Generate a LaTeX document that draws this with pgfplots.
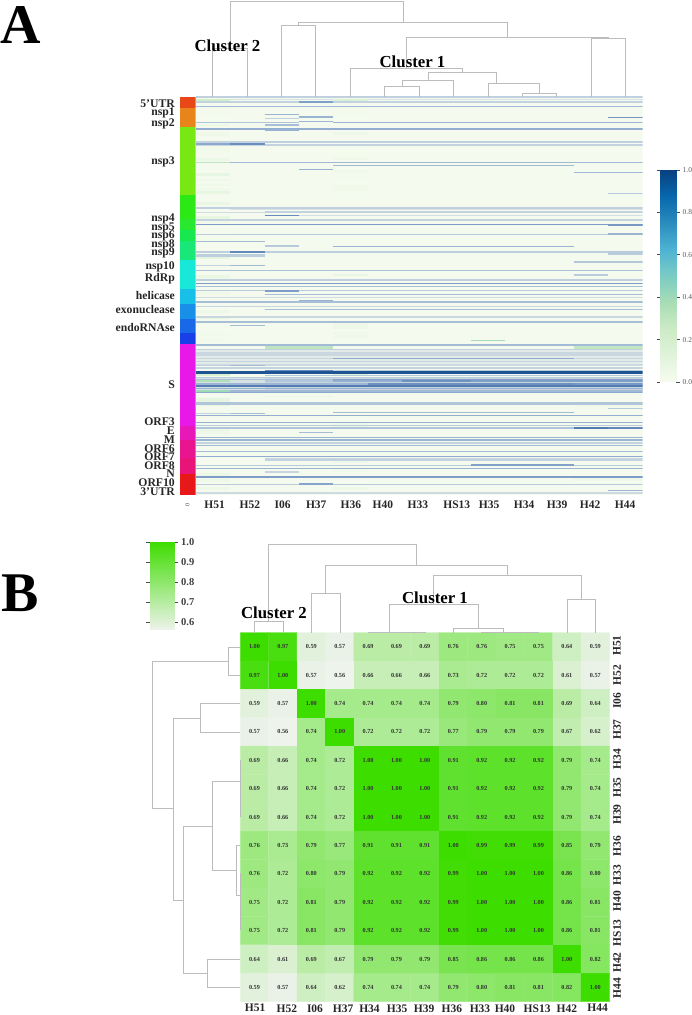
\documentclass[border=0pt]{standalone}
\usepackage{fontspec}
\setmainfont{Liberation Serif}
\usepackage{pgfplots}
\usepackage{pgfplotstable}
\pgfplotsset{compat=1.18}
\definecolor{dgray}{RGB}{188,188,188}
\pgfplotsset{
  colormap={gnbu}{rgb255(0)=(247,252,240) rgb255(1)=(224,243,219) rgb255(2)=(204,235,197) rgb255(3)=(168,221,181) rgb255(4)=(123,204,196) rgb255(5)=(78,179,211) rgb255(6)=(43,140,190) rgb255(7)=(8,104,172) rgb255(8)=(8,64,129)},
  colormap={stripe}{rgb255(0)=(245,251,239) rgb255(1)=(208,220,226) rgb255(2)=(176,197,218) rgb255(3)=(140,168,206) rgb255(4)=(90,130,182) rgb255(5)=(15,72,140)},
  colormap={limeg}{rgb255(0)=(238,243,236) rgb255(1)=(62,221,0)},
  dend/.style={no marks,draw=dgray,line width=1pt,line join=miter},
}
\newcommand{\fnt}[1]{\fontsize{#1}{#1}\selectfont}
% one row of heat map A: [thickness]{row position}{first col}{last col edge}{value x 1000}
\newcommand{\st}[5][1.2]{\addplot[no marks,line width=1.2*#1pt,color of colormap={#5 of stripe},draw=.] coordinates {(#3,#2)(#4,#2)};}
\newcommand{\gn}[5][1.2]{\addplot[no marks,line width=#1pt,color of colormap={#5 of gnbu},draw=.] coordinates {(#3,#2)(#4,#2)};}
\newcommand{\seg}[3]{\addplot[fill={#3},draw=none] coordinates {(180,#1)(195.5,#1)(195.5,#2)(180,#2)} --cycle;}
\pgfplotstableread[row sep=\\]{
x y v\\
0 0 1.00\\ 1 0 0.97\\ 2 0 0.59\\ 3 0 0.57\\ 4 0 0.69\\ 5 0 0.69\\ 6 0 0.69\\ 7 0 0.76\\ 8 0 0.76\\ 9 0 0.75\\ 10 0 0.75\\ 11 0 0.64\\ 12 0 0.59\\
0 1 0.97\\ 1 1 1.00\\ 2 1 0.57\\ 3 1 0.56\\ 4 1 0.66\\ 5 1 0.66\\ 6 1 0.66\\ 7 1 0.73\\ 8 1 0.72\\ 9 1 0.72\\ 10 1 0.72\\ 11 1 0.61\\ 12 1 0.57\\
0 2 0.59\\ 1 2 0.57\\ 2 2 1.00\\ 3 2 0.74\\ 4 2 0.74\\ 5 2 0.74\\ 6 2 0.74\\ 7 2 0.79\\ 8 2 0.80\\ 9 2 0.81\\ 10 2 0.81\\ 11 2 0.69\\ 12 2 0.64\\
0 3 0.57\\ 1 3 0.56\\ 2 3 0.74\\ 3 3 1.00\\ 4 3 0.72\\ 5 3 0.72\\ 6 3 0.72\\ 7 3 0.77\\ 8 3 0.79\\ 9 3 0.79\\ 10 3 0.79\\ 11 3 0.67\\ 12 3 0.62\\
0 4 0.69\\ 1 4 0.66\\ 2 4 0.74\\ 3 4 0.72\\ 4 4 1.00\\ 5 4 1.00\\ 6 4 1.00\\ 7 4 0.91\\ 8 4 0.92\\ 9 4 0.92\\ 10 4 0.92\\ 11 4 0.79\\ 12 4 0.74\\
0 5 0.69\\ 1 5 0.66\\ 2 5 0.74\\ 3 5 0.72\\ 4 5 1.00\\ 5 5 1.00\\ 6 5 1.00\\ 7 5 0.91\\ 8 5 0.92\\ 9 5 0.92\\ 10 5 0.92\\ 11 5 0.79\\ 12 5 0.74\\
0 6 0.69\\ 1 6 0.66\\ 2 6 0.74\\ 3 6 0.72\\ 4 6 1.00\\ 5 6 1.00\\ 6 6 1.00\\ 7 6 0.91\\ 8 6 0.92\\ 9 6 0.92\\ 10 6 0.92\\ 11 6 0.79\\ 12 6 0.74\\
0 7 0.76\\ 1 7 0.73\\ 2 7 0.79\\ 3 7 0.77\\ 4 7 0.91\\ 5 7 0.91\\ 6 7 0.91\\ 7 7 1.00\\ 8 7 0.99\\ 9 7 0.99\\ 10 7 0.99\\ 11 7 0.85\\ 12 7 0.79\\
0 8 0.76\\ 1 8 0.72\\ 2 8 0.80\\ 3 8 0.79\\ 4 8 0.92\\ 5 8 0.92\\ 6 8 0.92\\ 7 8 0.99\\ 8 8 1.00\\ 9 8 1.00\\ 10 8 1.00\\ 11 8 0.86\\ 12 8 0.80\\
0 9 0.75\\ 1 9 0.72\\ 2 9 0.81\\ 3 9 0.79\\ 4 9 0.92\\ 5 9 0.92\\ 6 9 0.92\\ 7 9 0.99\\ 8 9 1.00\\ 9 9 1.00\\ 10 9 1.00\\ 11 9 0.86\\ 12 9 0.81\\
0 10 0.75\\ 1 10 0.72\\ 2 10 0.81\\ 3 10 0.79\\ 4 10 0.92\\ 5 10 0.92\\ 6 10 0.92\\ 7 10 0.99\\ 8 10 1.00\\ 9 10 1.00\\ 10 10 1.00\\ 11 10 0.86\\ 12 10 0.81\\
0 11 0.64\\ 1 11 0.61\\ 2 11 0.69\\ 3 11 0.67\\ 4 11 0.79\\ 5 11 0.79\\ 6 11 0.79\\ 7 11 0.85\\ 8 11 0.86\\ 9 11 0.86\\ 10 11 0.86\\ 11 11 1.00\\ 12 11 0.82\\
0 12 0.59\\ 1 12 0.57\\ 2 12 0.64\\ 3 12 0.62\\ 4 12 0.74\\ 5 12 0.74\\ 6 12 0.74\\ 7 12 0.79\\ 8 12 0.80\\ 9 12 0.81\\ 10 12 0.81\\ 11 12 0.82\\ 12 12 1.00\\
}\matB
\begin{document}
\begin{tikzpicture}[x=1pt,y=1pt]
\useasboundingbox (0,0) rectangle (692,1015);
% ---------- heat map A
\begin{axis}[at={(196pt,520pt)},anchor=south west,scale only axis,width=446.6pt,height=398.3pt,
  xmin=0,xmax=13,ymin=96.7,ymax=495,y dir=reverse,clip=true,colormap name=gnbu,
  axis line style={draw=none},major tick length=0pt,ytick=\empty,
  xtick={0.54,1.57,2.52,3.50,4.51,5.44,6.46,7.59,8.53,9.55,10.51,11.47,12.49},
  xticklabels={H51,H52,I06,H37,H36,H40,H33,HS13,H35,H34,H39,H42,H44},
  xticklabel style={font=\bfseries\fnt{11.5},anchor=north,inner sep=0pt,yshift=-6pt,text=black!85}]
\addplot[fill={rgb,255:red,244;green,251;blue,238},draw=none] coordinates {(0,96.7)(13,96.7)(13,495)(0,495)} --cycle;
% paler green tints
\gn[2]{99.7}{0}{1}{220}\gn[2]{99.7}{4}{5}{170}
\gn[6]{112}{0}{1}{30}\gn[6]{112}{4}{5}{25}
\gn[1.5]{125}{0}{1}{60}\gn[4]{134}{0}{1}{40}\gn[3]{134}{4}{5}{50}
\gn[6]{150}{0}{1}{25}\gn[6]{152}{4}{5}{20}\gn[3]{160}{0}{1}{60}
\gn[3]{175}{0}{1}{90}\gn[2]{180}{0}{1}{40}\gn[2]{185}{0}{1}{40}\gn[4]{190}{0}{1}{40}
\gn[3]{159}{4}{5}{40}\gn[3]{172}{4}{5}{40}\gn[3]{178}{4}{5}{30}\gn[6]{188}{4}{5}{35}
\gn[3]{193}{0}{1}{90}\gn[3]{204}{0}{1}{70}\gn[7]{220}{0}{1}{40}\gn[3]{218}{0}{1}{90}
\gn[2]{197}{4}{5}{30}\gn[8]{240}{0}{1}{30}\gn[3]{258}{0}{1}{100}\gn[2]{275}{4}{5}{90}
\gn[2]{278}{0}{1}{50}\gn[3]{277}{0}{1}{70}\gn[3]{294}{0}{1}{40}\gn[3]{312}{0}{1}{50}
\gn[3]{318}{0}{1}{100}\gn[6]{326}{4}{5}{50}\gn[4]{334}{0}{1}{30}\gn[6]{335}{4}{5}{40}
\gn[4]{340}{0}{1}{30}\gn[5]{374}{0}{1}{170}\gn[3]{375}{4}{5}{130}
\gn[3]{397}{2}{4}{40}\gn[4]{400}{0}{1}{100}\gn[3]{405}{0}{1}{100}\gn[5]{426}{4}{5}{50}
\gn[5]{432}{0}{1}{50}\gn[3]{462}{4}{5}{50}\gn[3]{471}{4}{5}{35}\gn[3]{475}{0}{1}{60}\gn[3]{481}{0}{1}{50}
\gn[3]{489}{0}{1}{50}\gn[3]{489}{4}{5}{50}\gn[5]{479}{11}{13}{50}\gn[4]{348}{2}{4}{300}\gn[3]{348}{11}{13}{280}
\gn[5]{405}{11}{13}{40}
% broad S region tone
\st[14]{358}{0}{13}{100}
\st[12]{384}{2}{13}{260}\st[12]{384}{0}{2}{170}
% rows
\st[1.6]{96.9}{0}{13}{300}
\st[0.8]{99.7}{1}{4}{170}\st[0.8]{99.7}{5}{13}{170}
\st[1.8]{102.3}{0}{13}{290}\st[1.6]{102.3}{3}{4}{650}
\st[1]{106.3}{0}{13}{480}
\st[1]{114.3}{2}{3}{520}
\st[2]{117.3}{3}{4}{520}\st[1.2]{117.3}{12}{13}{700}
\st[0.9]{118.7}{2}{3}{300}
\st[1.2]{121.7}{3}{4}{500}
\st[1]{122.3}{0}{3}{400}\st[1]{122.3}{4}{13}{500}
\st[1.2]{125}{2}{3}{450}
\st[1.6]{129.3}{0}{13}{560}\st[2.4]{130}{2}{3}{540}
\st[1]{142}{2}{13}{300}\st[1]{142}{0}{2}{280}
\st[1.6]{143.9}{0}{1}{600}\st[1.6]{143.9}{1}{2}{740}
\st[1.2]{145.2}{2}{13}{290}\st[1]{145.2}{0}{2}{250}
\st[1]{162.7}{1}{13}{480}\gn[1]{162.7}{0}{1}{300}
\st[1]{165.3}{4}{11}{480}
\st[1.2]{169.3}{3}{4}{540}
\st[1.2]{172.3}{11}{13}{480}
\st[1.2]{193.4}{12}{13}{360}
\st[1.8]{207.7}{0}{13}{300}
\st[0.8]{209.7}{1}{13}{160}
\st[1.4]{212.3}{2}{13}{290}\st[1]{212.3}{0}{2}{200}
\st[1]{215.4}{2}{3}{750}\st[1]{215.4}{3}{13}{180}
\st[1.8]{219.7}{0}{13}{270}
\st[1]{224.3}{0}{13}{660}\st[2]{224.8}{12}{13}{680}
\st[1.3]{234.7}{0}{13}{350}\st[1.6]{234.4}{12}{13}{520}
\st[1]{241.3}{0}{2}{460}
\st[1]{246}{2}{3}{360}
\st[1]{246.3}{4}{11}{520}
\st[2.2]{252}{0}{13}{320}\st[1]{252}{1}{2}{760}\st[3]{253}{12}{13}{350}
\st[3.2]{255.5}{0}{2}{320}
\st[1.6]{262}{11}{13}{380}
\st[1]{265.3}{1}{2}{480}\st[0.8]{265.3}{0}{1}{280}
\st[1]{270.3}{0}{13}{420}
\st[1.6]{275}{11}{12}{340}
\st[1.4]{280.3}{0}{13}{300}
\st[1]{283.7}{0}{13}{660}
\st[1.2]{286.7}{0}{13}{450}
\st[1]{290.7}{0}{13}{340}\st[1.4]{290.7}{2}{3}{660}
\st[1]{294.3}{2}{13}{450}
\st[1]{297.3}{0}{13}{200}
\st[1.2]{300.3}{3}{4}{540}
\st[1]{302}{0}{13}{450}
\st[1.2]{306.7}{0}{13}{260}
\st[1]{309.3}{2}{13}{450}
\st[1.8]{316.7}{0}{13}{240}
\st[1.1]{322}{0}{13}{450}
\st[1]{325.3}{1}{2}{460}
\gn[1]{340.3}{8}{9}{380}
\st[1.7]{344.7}{0}{13}{470}
\st[1.2]{349.3}{0}{13}{300}
\st[3.5]{353.9}{0}{13}{240}
\st[1.2]{358.7}{0}{4}{270}\st[1.3]{358.7}{4}{11}{580}\st[1.2]{358.7}{11}{13}{260}
\st[1.2]{361.3}{0}{13}{290}
\st[1.5]{365.3}{0}{13}{230}\st[1]{365.3}{1}{2}{470}\st[1.2]{365.3}{0}{1}{300}
\st[1.4]{368}{0}{13}{280}
\st[1.2]{370.3}{4}{13}{350}\st[2.2]{371}{2}{4}{760}
\st[2.6]{372.9}{0}{13}{960}
\st[1.2]{375.3}{2}{13}{380}
\st[1.4]{377.4}{0}{13}{330}
\st[1.4]{379.4}{0}{4}{420}\st[1.4]{379.4}{4}{13}{640}
\gn[2]{381.4}{0}{1}{350}\st[1.6]{381.4}{2}{4}{380}\st[1.6]{381.4}{4}{6}{560}\st[1.6]{381.4}{6}{8}{720}\st[1.6]{381.4}{8}{13}{650}
\st[1.6]{383.6}{0}{5}{500}\st[1.6]{383.6}{5}{11}{720}\st[1.6]{383.6}{11}{13}{680}
\st[2]{386}{0}{13}{820}
\st[1.3]{388.4}{0}{13}{540}
\st[2]{391.2}{0}{13}{480}\gn[2]{391.2}{0}{1}{400}
\st[1.2]{392.7}{0}{13}{600}
\st[2.4]{403.3}{0}{13}{400}
\st[1]{408.3}{12}{13}{360}
\st[1]{412.3}{4}{11}{460}
\st[1.1]{413.3}{0}{1}{280}\st[1.1]{413.3}{1}{2}{440}
\st[1.2]{415.7}{0}{13}{560}
\st[1.2]{422.7}{0}{13}{540}
\st[1.1]{425.3}{0}{13}{340}
\st[1]{428}{0}{11}{400}\st[1.4]{428}{11}{12}{820}\st[1.2]{428}{12}{13}{760}
\st[1]{432.3}{3}{4}{460}
\st[1.1]{437.7}{0}{13}{520}
\st[1.8]{440}{0}{13}{520}
\st[1.1]{443}{0}{13}{280}
\st[1.1]{445.3}{0}{13}{480}
\st[1.1]{451.3}{0}{13}{460}
\st[1.2]{456.7}{0}{13}{580}
\st[2.4]{459.7}{2}{13}{280}
\st[1.8]{464.7}{8}{11}{640}
\st[1]{465.7}{0}{8}{350}\st[1]{465.7}{11}{13}{350}
\st[1.2]{468.7}{0}{13}{520}
\st[2.2]{472}{2}{3}{260}
\st[1.8]{476.7}{0}{13}{660}
\st[2]{484}{3}{4}{620}
\st[1]{484.7}{0}{3}{330}\st[1]{484.7}{4}{13}{350}
\st[1]{490.3}{12}{13}{500}
\st[1.6]{492.7}{0}{13}{220}
\end{axis}
% ---------- annotation bar of A
\begin{axis}[at={(180pt,520pt)},anchor=south west,scale only axis,width=15.5pt,height=398.3pt,
  xmin=180,xmax=195.5,ymin=96.7,ymax=495,y dir=reverse,
  axis line style={draw=none},major tick length=0pt,
  xtick={187.5},xticklabels={0},
  xticklabel style={font=\fnt{6},rotate=90,anchor=center,xshift=-10pt,yshift=0pt,text=black!75},
  ytick={104,113,124,162,219,228,236,245,253,267,278.5,296,309.5,328,385,422,431,440,449,457,466,474,482.5,492},
  yticklabels={5'UTR,nsp1,nsp2,nsp3,nsp4,nsp5,nsp6,nsp8,nsp9,nsp10,RdRp,helicase,exonuclease,endoRNAse,S,ORF3,E,M,ORF6,ORF7,ORF8,N,ORF10,3'UTR},
  yticklabel style={font=\bfseries\fnt{11.7},anchor=east,inner sep=0pt,xshift=-5pt,text=black!85}]
\seg{96.7}{108}{rgb,255:red,232;green,72;blue,24}
\seg{108}{127}{rgb,255:red,232;green,133;blue,26}
\seg{127}{195}{rgb,255:red,120;green,232;blue,20}
\seg{195}{218.7}{rgb,255:red,44;green,232;blue,20}
\seg{218.7}{230}{rgb,255:red,40;green,232;blue,48}
\seg{230}{241}{rgb,255:red,24;green,232;blue,80}
\seg{241}{260}{rgb,255:red,24;green,232;blue,120}
\seg{260}{289.3}{rgb,255:red,24;green,232;blue,216}
\seg{289.3}{304}{rgb,255:red,24;green,192;blue,232}
\seg{304}{319}{rgb,255:red,24;green,144;blue,232}
\seg{319}{333}{rgb,255:red,24;green,104;blue,232}
\seg{333}{344}{rgb,255:red,24;green,64;blue,232}
\seg{344}{425.7}{rgb,255:red,232;green,24;blue,232}
\seg{425.7}{440}{rgb,255:red,232;green,24;blue,184}
\seg{440}{458}{rgb,255:red,232;green,20;blue,144}
\seg{458}{474}{rgb,255:red,232;green,20;blue,120}
\seg{474}{495}{rgb,255:red,232;green,24;blue,24}
\end{axis}
% ---------- colour bar of A
\begin{axis}[at={(660pt,633pt)},anchor=south west,scale only axis,width=16pt,height=212pt,
  xmin=0,xmax=1,ymin=0,ymax=1,colormap name=gnbu,point meta min=0,point meta max=1,
  axis line style={draw=none},xtick=\empty,ytick={0,0.2,0.4,0.6,0.8,1},yticklabel pos=right,
  tick style={draw=black!70,line width=0.6pt},major tick length=3.5pt,tick align=outside,
  /pgf/number format/.cd,fixed,fixed zerofill,precision=1,assume math mode=true,/pgfplots/.cd,
  yticklabel style={font=\fnt{7.5},text=black!65,inner sep=0pt,xshift=3pt}]
\addplot[surf,shader=interp,mesh/cols=2,point meta=y] coordinates {(0,0)(1,0)(0,1)(1,1)};
\end{axis}
% ---------- heat map B
\begin{axis}[at={(240.3pt,13.3pt)},anchor=south west,scale only axis,width=369.2pt,height=369.2pt,
  xmin=-0.5,xmax=12.5,ymin=-0.5,ymax=12.5,y dir=reverse,colormap name=limeg,point meta min=0.56,point meta max=1,
  axis line style={draw=none},major tick length=0pt,
  xtick={0.02,1.14,2.13,3.12,4.05,5.02,5.97,6.95,7.94,8.82,9.95,11,12.08},
  xticklabels={H51,H52,I06,H37,H34,H35,H39,H36,H33,H40,HS13,H42,H44},
  xticklabel style={font=\bfseries\fnt{11.5},anchor=north,inner sep=0pt,yshift=-2.5pt,text=black!85},
  ytick={-0.04,0.99,1.90,2.92,3.97,4.96,5.91,7.03,8.04,8.96,10.07,11.12,12.01},
  yticklabels={H51,H52,I06,H37,H34,H35,H39,H36,H33,H40,HS13,H42,H44},
  yticklabel pos=right,
  yticklabel style={font=\bfseries\fnt{11.5},rotate=90,anchor=center,inner sep=0pt,yshift=-7.5pt,text=black!85}]
\addplot[matrix plot*,mesh/cols=13,point meta=explicit] table[x=x,y=y,meta=v] {\matB};
\addplot[only marks,mark=none,point meta=explicit,nodes near coords,
  every node near coord/.append style={font=\bfseries\fnt{6.2},anchor=center,inner sep=0pt,text=black!80},
  /pgf/number format/.cd,fixed,fixed zerofill,precision=2,assume math mode=true,/pgfplots/.cd]
  table[x=x,y=y,meta=v] {\matB};
\end{axis}
% ---------- colour bar of B
\begin{axis}[at={(150pt,385pt)},anchor=south west,scale only axis,width=24pt,height=88pt,
  xmin=0,xmax=1,ymin=0.56,ymax=1,colormap name=limeg,point meta min=0.56,point meta max=1,
  axis line style={draw=none},xtick=\empty,ytick={0.6,0.7,0.8,0.9,1},yticklabel pos=right,
  tick style={draw=black!70,line width=0.7pt},major tick length=4pt,tick align=outside,
  /pgf/number format/.cd,fixed,fixed zerofill,precision=1,assume math mode=true,/pgfplots/.cd,
  yticklabel style={font=\bfseries\fnt{10.5},text=black!75,inner sep=0pt,xshift=3pt}]
\addplot[surf,shader=interp,mesh/cols=2,point meta=y] coordinates {(0,0.56)(1,0.56)(0,1)(1,1)};
\end{axis}
% ---------- dendrograms and labels, in page pixels
\begin{axis}[at={(0pt,0pt)},anchor=south west,scale only axis,width=692pt,height=1015pt,
  xmin=0,xmax=692,ymin=0,ymax=1015,y dir=reverse,hide axis,clip=false]
% A, top
\addplot[dend] coordinates {(230,48)(230,1)(403,1)(403,22.3)};
\addplot[dend] coordinates {(212.7,96.7)(212.7,48)(247,48)(247,96.7)};
\addplot[dend] coordinates {(298.3,25.3)(298.3,22.3)(507,22.3)(507,37)};
\addplot[dend] coordinates {(281.7,96.7)(281.7,25.3)(315.7,25.3)(315.7,96.7)};
\addplot[dend] coordinates {(406,68.3)(406,37)(608,37)(608,38.3)};
\addplot[dend] coordinates {(591,96.7)(591,38.3)(625.3,38.3)(625.3,96.7)};
\addplot[dend] coordinates {(350.6,96.7)(350.6,68.3)(462,68.3)(462,72)};
\addplot[dend] coordinates {(428,80)(428,72)(496,72)(496,83)};
\addplot[dend] coordinates {(402,86.3)(402,80)(453.6,80)(453.6,96.7)};
\addplot[dend] coordinates {(384.9,96.7)(384.9,86.3)(419.3,86.3)(419.3,96.7)};
\addplot[dend] coordinates {(488,96.7)(488,83)(539,83)(539,93)};
\addplot[dend] coordinates {(522.3,96.7)(522.3,93)(556.7,93)(556.7,96.7)};
% B, top
\addplot[dend] coordinates {(268.7,621.7)(268.7,544.7)(416.7,544.7)(416.7,565.7)};
\addplot[dend] coordinates {(254.3,632.7)(254.3,621.7)(283,621.7)(283,632.7)};
\addplot[dend] coordinates {(325.3,593)(325.3,565.7)(507.7,565.7)(507.7,575.7)};
\addplot[dend] coordinates {(311.7,632.7)(311.7,593)(340,593)(340,632.7)};
\addplot[dend] coordinates {(433.7,604.7)(433.7,575.7)(581.7,575.7)(581.7,599.7)};
\addplot[dend] coordinates {(567,632.7)(567,599.7)(595.3,599.7)(595.3,632.7)};
\addplot[dend] coordinates {(389.7,632)(389.7,604.7)(478.3,604.7)(478.3,628.7)};
\addplot[dend] coordinates {(368,632.7)(368,632)(425,632)(425,632.7)};
\addplot[dend] coordinates {(453.3,632.7)(453.3,628.7)(503.3,628.7)(503.3,632)};
\addplot[dend] coordinates {(481.7,632.7)(481.7,632)(538.3,632)(538.3,632.7)};
% B, left
\addplot[dend] coordinates {(228.7,661)(152.3,661)(152.3,808.7)(173.3,808.7)};
\addplot[dend] coordinates {(240.3,647)(228.7,647)(228.7,675.3)(240.3,675.3)};
\addplot[dend] coordinates {(200.3,718.3)(173.3,718.3)(173.3,900)(183.3,900)};
\addplot[dend] coordinates {(240.3,703.7)(200.3,703.7)(200.3,732.3)(240.3,732.3)};
\addplot[dend] coordinates {(212.7,826)(183.3,826)(183.3,973.3)(207.3,973.3)};
\addplot[dend] coordinates {(240.3,959)(207.3,959)(207.3,987.3)(240.3,987.3)};
\addplot[dend] coordinates {(240,781.7)(212.7,781.7)(212.7,870.3)(236.7,870.3)};
\addplot[dend] coordinates {(240.3,760)(240.3,816.7)};
\addplot[dend] coordinates {(240.3,845)(236.7,845)(236.7,895)(240.3,895)};
\addplot[dend] coordinates {(240.3,873)(240.3,930)};
\node[font=\bfseries\fnt{56},inner sep=0pt,anchor=center] at (axis cs:21,25.5) {A};
\node[font=\bfseries\fnt{56},inner sep=0pt,anchor=center] at (axis cs:20,593.5) {B};
\node[font=\bfseries\fnt{16.8},inner sep=0pt,anchor=center] at (axis cs:227.5,46) {Cluster 2};
\node[font=\bfseries\fnt{16.8},inner sep=0pt,anchor=center] at (axis cs:412.5,62) {Cluster 1};
\node[font=\bfseries\fnt{16.8},inner sep=0pt,anchor=center] at (axis cs:274,613) {Cluster 2};
\node[font=\bfseries\fnt{16.8},inner sep=0pt,anchor=center] at (axis cs:435,598) {Cluster 1};
\end{axis}
\end{tikzpicture}
\end{document}
